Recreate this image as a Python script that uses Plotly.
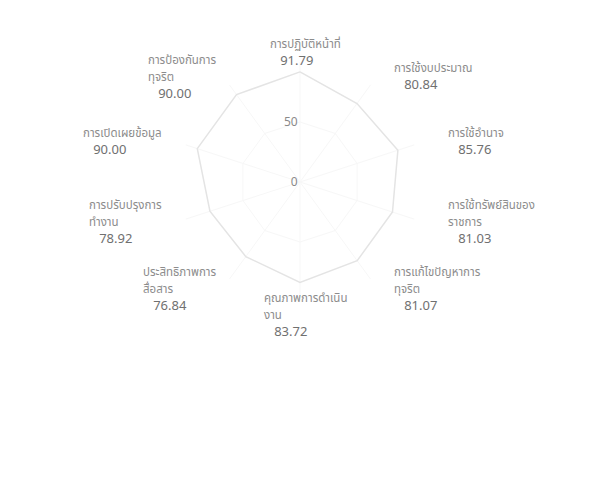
import math
import plotly.graph_objects as go

categories = [
    "การปฏิบัติหน้าที่",
    "การใช้งบประมาณ",
    "การใช้อำนาจ",
    "การใช้ทรัพย์สินของ<br>ราชการ",
    "การแก้ไขปัญหาการ<br>ทุจริต",
    "คุณภาพการดำเนิน<br>งาน",
    "ประสิทธิภาพการ<br>สื่อสาร",
    "การปรับปรุงการ<br>ทำงาน",
    "การเปิดเผยข้อมูล",
    "การป้องกันการ<br>ทุจริต",
]
values = [91.79, 80.84, 85.76, 81.03, 81.07, 83.72, 76.84, 78.92, 90.00, 90.00]
radial_ticks = [0, 50]

W, H = 604, 495
OFF = 8                                   # page body margin
cx, cy, R = 300 - OFF, 182 - OFF, 120     # polar centre / radius (px)
lx, ly = 305 - OFF, 182 - OFF             # label ellipse centre
rx, ry_up, ry_low = 148, 129, 134

theta_ids = [str(i) for i in range(len(categories))]

fig = go.Figure()
fig.add_trace(go.Scatterpolar(
    r=values + values[:1],
    theta=theta_ids + theta_ids[:1],
    mode="lines",
    line=dict(color="#e4e4e4", width=1.5),
    hoverinfo="skip",
))

annotations = []
n = len(categories)
for i, (name, v) in enumerate(zip(categories, values)):
    a = math.radians(360 * i / n)
    s, c = math.sin(a), math.cos(a)
    px = lx + rx * s
    py = ly - (ry_up if c > 0 else ry_low) * c
    if abs(s) < 0.1:
        xa = "center"
    elif s > 0:
        xa = "left"
    else:
        xa = "right"
    txt = (f"<span style='font-size:11.5px;color:#8c8c8c'>{name}</span><br>"
           f"<span style='font-size:13px;color:#707070'>&nbsp;&nbsp;&nbsp;{v:.2f}</span>")
    annotations.append(dict(
        x=px / W, y=1 - py / H, xref="paper", yref="paper",
        text=txt, showarrow=False, xanchor=xa, yanchor="middle",
        align="left", font=dict(size=13),
    ))

fig.update_layout(
    width=W, height=H,
    margin=dict(l=0, r=0, t=0, b=0),
    paper_bgcolor="white",
    plot_bgcolor="white",
    showlegend=False,
    font=dict(family="Noto Sans Thai, Noto Sans, sans-serif", color="#888"),
    annotations=annotations,
    polar=dict(
        domain=dict(x=[(cx - R) / W, (cx + R) / W], y=[1 - (cy + R) / H, 1 - (cy - R) / H]),
        bgcolor="white",
        gridshape="linear",
        radialaxis=dict(
            range=[0, 100],
            tickvals=radial_ticks,
            ticktext=[str(t) for t in radial_ticks],
            angle=90,
            tickangle=90,
            side="counterclockwise",
            showline=False,
            ticks="",
            gridcolor="#f7f7f7",
            tickfont=dict(size=12, color="#8a8a8a"),
        ),
        angularaxis=dict(
            type="category",
            categoryarray=theta_ids,
            direction="clockwise",
            rotation=90,
            showline=False,
            showticklabels=False,
            ticks="",
            gridcolor="#f7f7f7",
        ),
    ),
)

fig.write_html("out.html")
